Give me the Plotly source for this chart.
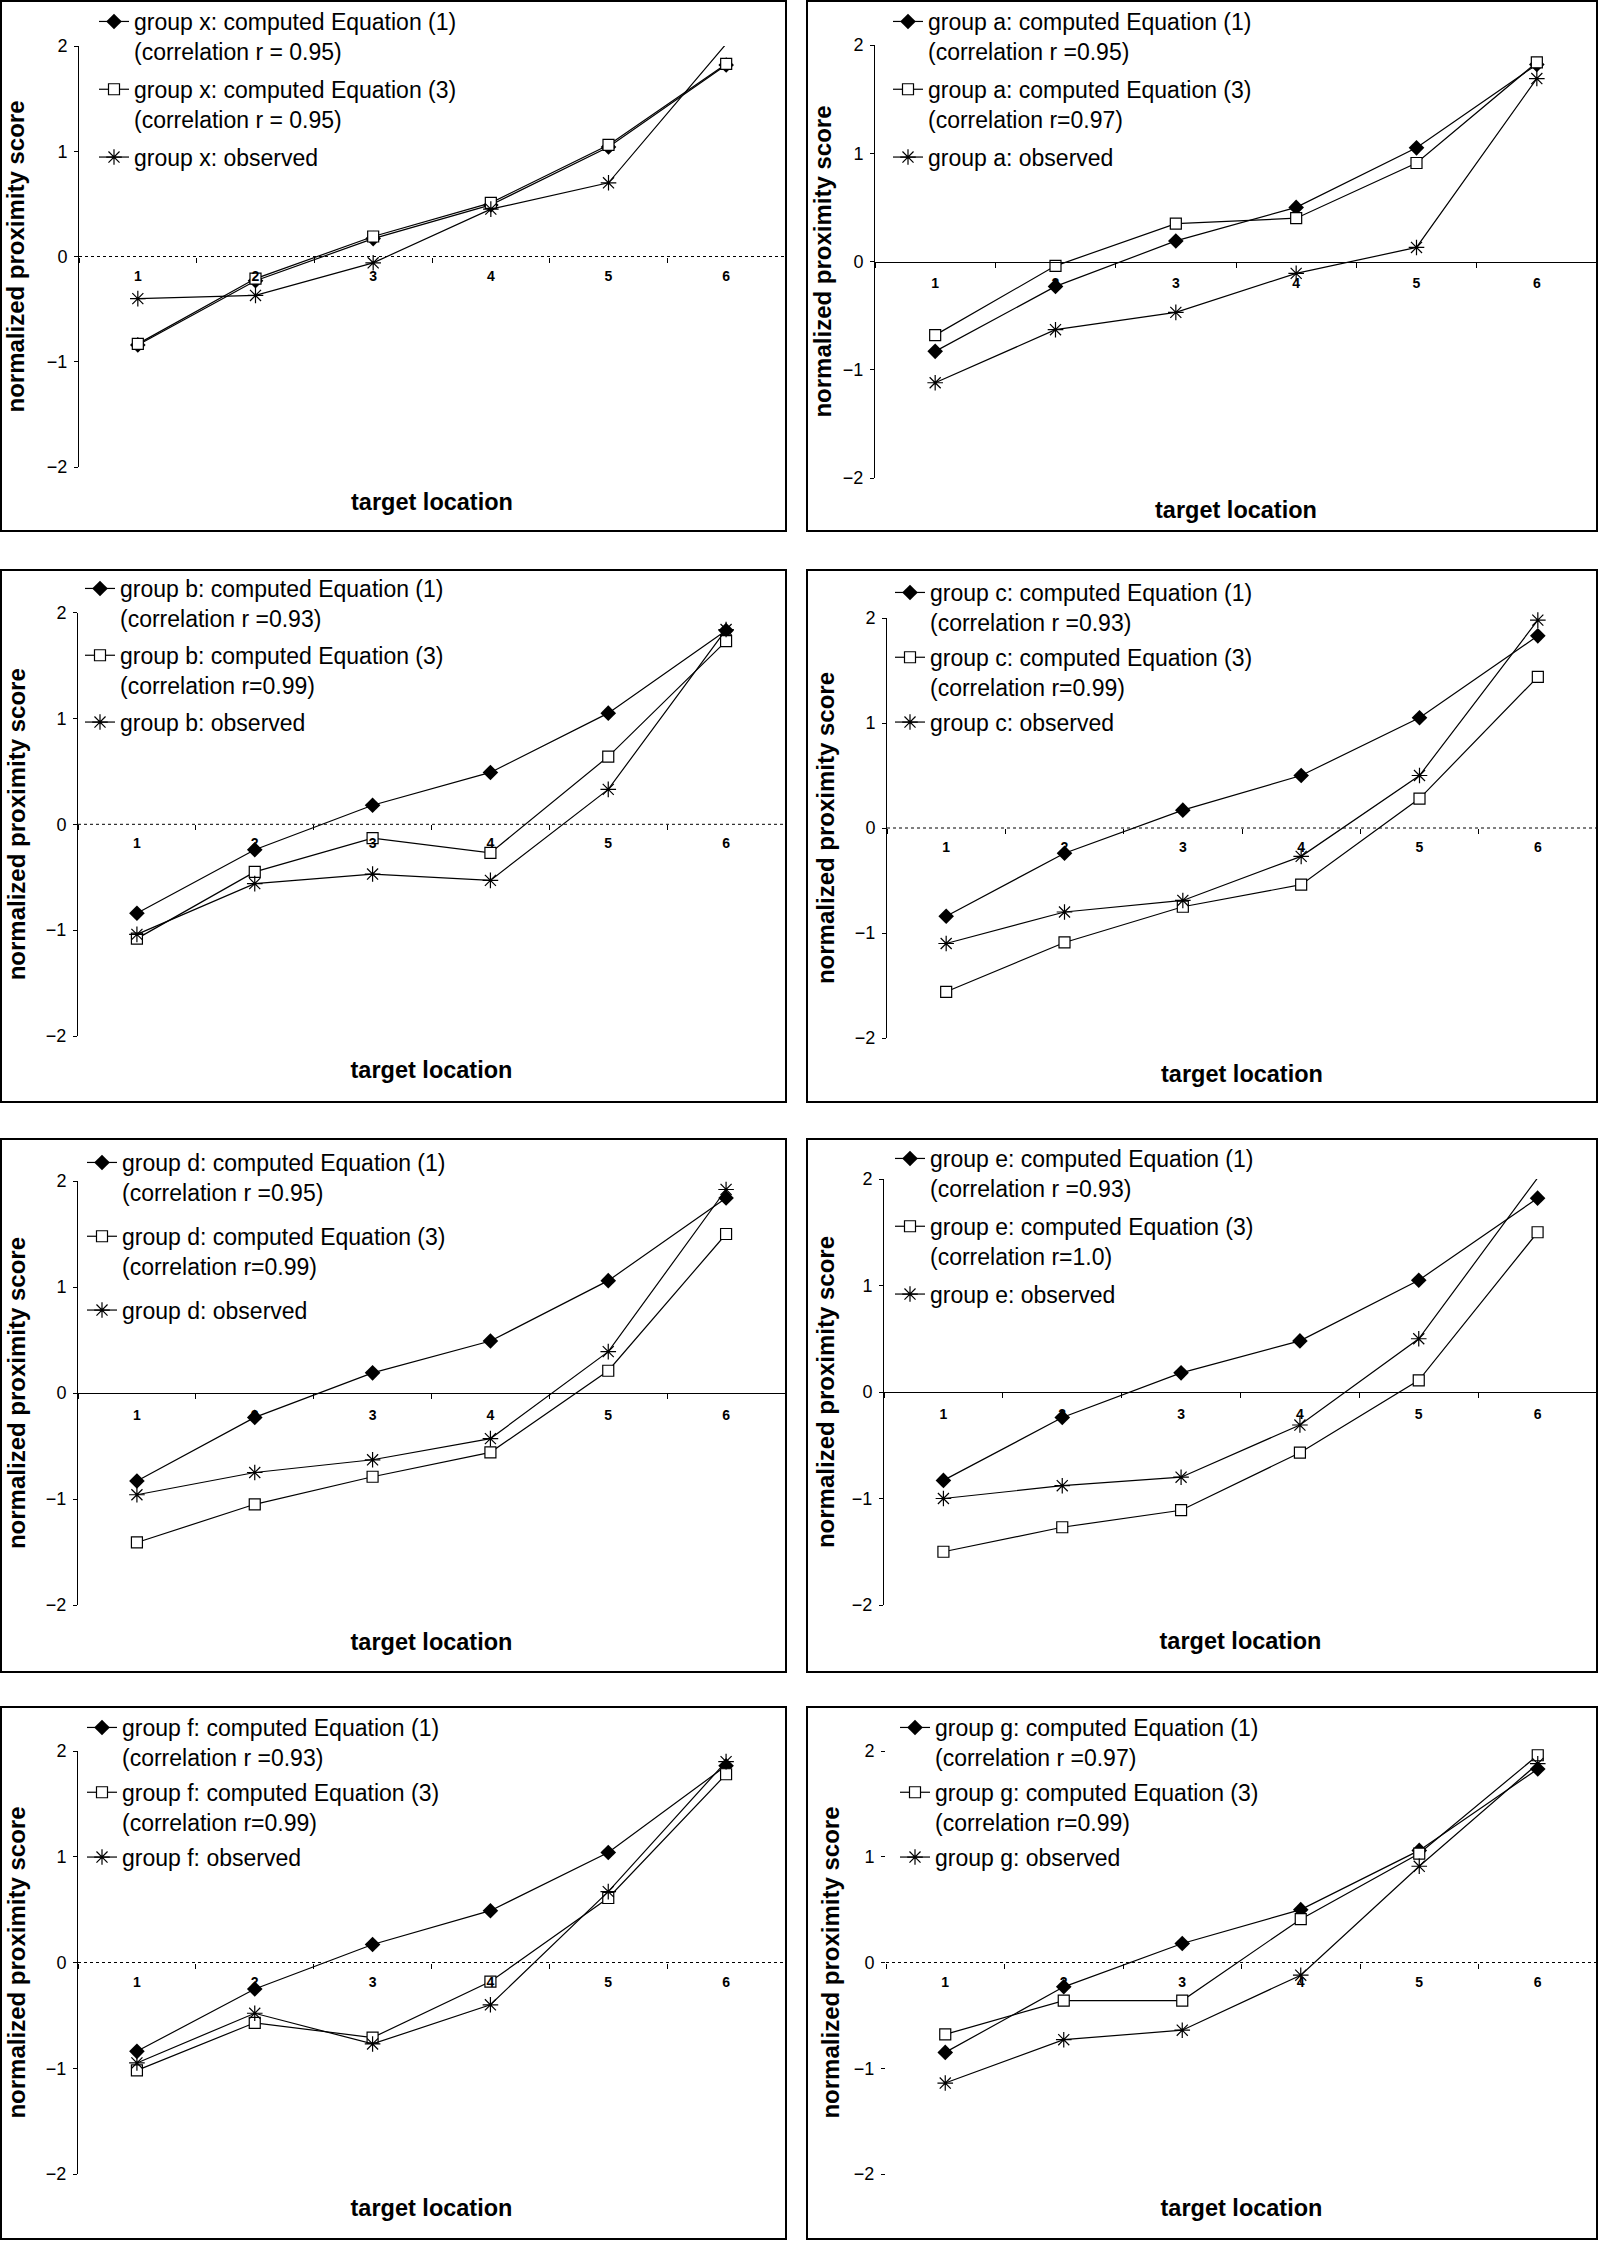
import plotly.graph_objects as go

W, H = 1600, 2241
FONT = "Liberation Sans, Arial, Helvetica, sans-serif"

# ---------------- data ----------------
categories = ["1", "2", "3", "4", "5", "6"]
groups = ["x", "a", "b", "c", "d", "e", "f", "g"]

eq1_x = [-0.84, -0.23, 0.17, 0.49, 1.04, 1.82]
eq3_x = [-0.83, -0.21, 0.19, 0.51, 1.06, 1.83]
obs_x = [-0.40, -0.37, -0.06, 0.45, 0.70, 2.02]

eq1_a = [-0.83, -0.23, 0.19, 0.50, 1.05, 1.82]
eq3_a = [-0.68, -0.04, 0.35, 0.40, 0.91, 1.84]
obs_a = [-1.12, -0.63, -0.47, -0.11, 0.13, 1.69]

eq1_b = [-0.84, -0.24, 0.18, 0.49, 1.05, 1.83]
eq3_b = [-1.08, -0.45, -0.13, -0.27, 0.64, 1.73]
obs_b = [-1.04, -0.56, -0.47, -0.53, 0.33, 1.84]

eq1_c = [-0.84, -0.24, 0.17, 0.50, 1.05, 1.83]
eq3_c = [-1.56, -1.09, -0.75, -0.54, 0.28, 1.44]
obs_c = [-1.10, -0.80, -0.69, -0.27, 0.50, 1.98]

eq1_d = [-0.83, -0.23, 0.19, 0.49, 1.06, 1.84]
eq3_d = [-1.41, -1.05, -0.79, -0.56, 0.21, 1.50]
obs_d = [-0.96, -0.75, -0.63, -0.43, 0.39, 1.92]

eq1_e = [-0.83, -0.24, 0.18, 0.48, 1.05, 1.82]
eq3_e = [-1.50, -1.27, -1.11, -0.57, 0.11, 1.50]
obs_e = [-1.00, -0.88, -0.80, -0.31, 0.50, 2.01]

eq1_f = [-0.84, -0.25, 0.17, 0.49, 1.04, 1.86]
eq3_f = [-1.02, -0.57, -0.71, -0.18, 0.61, 1.78]
obs_f = [-0.95, -0.48, -0.77, -0.40, 0.67, 1.90]

eq1_g = [-0.85, -0.23, 0.18, 0.50, 1.06, 1.83]
eq3_g = [-0.68, -0.36, -0.36, 0.41, 1.03, 1.96]
obs_g = [-1.14, -0.73, -0.64, -0.12, 0.91, 1.88]

corr_eq1 = ["r = 0.95", "r =0.95", "r =0.93", "r =0.93", "r =0.95", "r =0.93", "r =0.93", "r =0.97"]
corr_eq3 = ["r = 0.95", "r=0.97", "r=0.99", "r=0.99", "r=0.99", "r=1.0", "r=0.99", "r=0.99"]

y_ticks = [-2, -1, 0, 1, 2]
y_title = "normalized proximity score"
x_title = "target location"

series_eq1 = [eq1_x, eq1_a, eq1_b, eq1_c, eq1_d, eq1_e, eq1_f, eq1_g]
series_eq3 = [eq3_x, eq3_a, eq3_b, eq3_c, eq3_d, eq3_e, eq3_f, eq3_g]
series_obs = [obs_x, obs_a, obs_b, obs_c, obs_d, obs_e, obs_f, obs_g]

# ---------------- layout geometry (pixels) ----------------
panel_box = [(1, 1, 786, 531), (807, 1, 1597, 531),
             (1, 570, 786, 1102), (807, 570, 1597, 1102),
             (1, 1139, 786, 1672), (807, 1139, 1597, 1672),
             (1, 1707, 786, 2239), (807, 1707, 1597, 2239)]
plot_x = [(79, 785), (875, 1597), (78, 785), (887, 1597),
          (78, 785), (884, 1597), (78, 785), (886, 1597)]
plot_y = [(46, 467), (45, 478), (612.6, 1036), (618, 1038),
          (1181, 1605), (1179, 1605), (1751, 2174), (1751, 2174)]
dotted_axis = [True, False, True, True, False, False, True, True]
show_yline = [True, True, True, True, True, True, True, False]
legend_pos = [(94, 0, 5), (888, 0, 5), (80, 567, 4), (890, 571, 2),
              (82, 1141, 11), (890, 1137, 5), (82, 1706, 2), (895, 1706, 2)]
ytitle_standoff = [14.7, 3.5, 13.3, 12.5, 13.3, 9.5, 13.3, 7.2]
xtitle_standoff = 211

fig = go.Figure()
layout = dict(
    width=W, height=H,
    margin=dict(l=0, r=0, t=0, b=0, autoexpand=False),
    paper_bgcolor="white", plot_bgcolor="rgba(0,0,0,0)",
    font=dict(family=FONT, color="black"),
    showlegend=True,
)
shapes = []

for i, g in enumerate(groups):
    n = i + 1
    sx = "" if n == 1 else str(n)
    xa, ya = "x" + sx, "y" + sx
    leg = "legend" + sx

    common = dict(x=categories, xaxis=xa, yaxis=ya, legend=leg,
                  mode="lines+markers", cliponaxis=False,
                  line=dict(color="black", width=1.2))
    fig.add_trace(go.Scatter(
        y=series_eq1[i], name=f"group {g}: computed Equation (1)<br>(correlation {corr_eq1[i]})",
        legendgroup=f"{g}1",
        marker=dict(symbol="diamond", size=12, color="black"), **common))
    fig.add_trace(go.Scatter(
        y=series_eq3[i], name=f"group {g}: computed Equation (3)<br>(correlation {corr_eq3[i]})",
        legendgroup=f"{g}3",
        marker=dict(symbol="square", size=11, color="white", line=dict(color="black", width=1.2)),
        **common))
    fig.add_trace(go.Scatter(
        y=series_obs[i], name=f"group {g}: observed",
        legendgroup=f"{g}o",
        marker=dict(symbol="asterisk-open", size=13, color="black", line=dict(color="black", width=1.2)),
        **common))

    px0, px1 = plot_x[i]
    ptop, pbot = plot_y[i]
    zero_px = (ptop + pbot) / 2.0

    layout["xaxis" + sx] = dict(
        domain=[px0 / W, px1 / W], anchor="free", position=1 - zero_px / H,
        type="category", categoryorder="array", categoryarray=categories,
        range=[-0.5, 5.5], tickson="boundaries", ticks="outside", ticklen=5,
        tickcolor="black", showline=not dotted_axis[i], linecolor="black", linewidth=1,
        showgrid=False, zeroline=False, ticklabelstandoff=9,
        tickfont=dict(size=14, weight="bold", color="black"),
        title=dict(text=x_title, font=dict(size=23.5, weight="bold", color="black"),
                   standoff=xtitle_standoff),
        fixedrange=True,
    )
    layout["yaxis" + sx] = dict(
        domain=[1 - pbot / H, 1 - ptop / H], anchor=xa,
        range=[-2, 2], tickvals=y_ticks, ticks="outside", ticklen=4, tickcolor="black",
        showline=show_yline[i], linecolor="black", linewidth=1,
        showgrid=False, zeroline=False, ticklabelstandoff=3,
        tickfont=dict(size=18, color="black"),
        title=dict(text=y_title, font=dict(size=24, weight="bold", color="black"),
                   standoff=ytitle_standoff[i]),
        fixedrange=True,
    )
    lx, ltop, lgap = legend_pos[i]
    layout[leg] = dict(
        x=lx / W, y=1 - ltop / H, xanchor="left", yanchor="top",
        bgcolor="rgba(0,0,0,0)", borderwidth=0,
        font=dict(size=23, color="black", family=FONT),
        valign="top", traceorder="grouped", tracegroupgap=lgap,
    )

    if dotted_axis[i]:
        shapes.append(dict(type="line", xref=xa + " domain", x0=0, x1=1,
                           yref=ya, y0=0, y1=0,
                           line=dict(color="black", width=1, dash="dot")))
    bx0, by0, bx1, by1 = panel_box[i]
    shapes.append(dict(type="rect", xref="paper", yref="paper",
                       x0=bx0 / W, x1=bx1 / W, y0=1 - by1 / H, y1=1 - by0 / H,
                       line=dict(color="black", width=2), fillcolor="rgba(0,0,0,0)",
                       layer="below"))

layout["shapes"] = shapes
fig.update_layout(**layout)
fig.write_html(
    "out.html",
    config={"displayModeBar": False},
    post_script="document.body.style.margin='0px';document.body.style.overflow='hidden';",
)
